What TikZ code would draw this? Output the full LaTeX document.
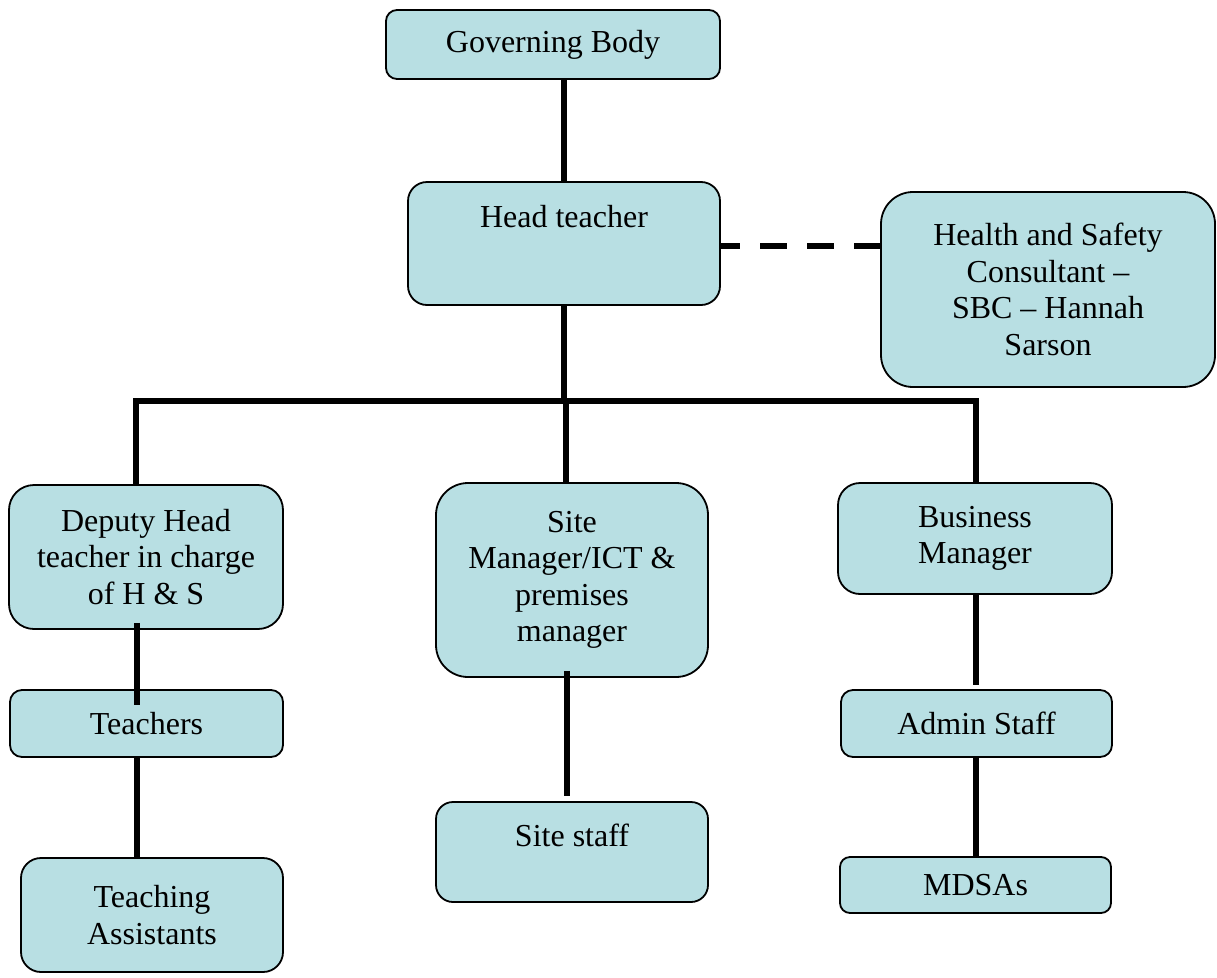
\documentclass[tikz,border=0pt]{standalone}
\usepackage{fontspec}
\setmainfont{Liberation Serif}
\usetikzlibrary{calc}
\definecolor{boxfill}{HTML}{B8DFE3}
\tikzset{
  box/.style={draw=black, line width=1.8pt, fill=boxfill, align=center, inner sep=0pt,
    font=\fontsize{32}{36.5}\selectfont},
  lbl/.style={align=center, inner sep=0pt, font=\fontsize{32}{36.5}\selectfont},
  conn/.style={line width=6pt, line cap=butt},
  dashconn/.style={line width=6.5pt, dash pattern=on 26.5pt off 20.5pt, dash phase=7.5pt}
}
\begin{document}
\begin{tikzpicture}[x=1pt,y=-1pt]
\useasboundingbox (0,0) rectangle (1217,977);
% boxes
\node[box, minimum width=334pt, minimum height=69pt, rounded corners=11pt] (gov) at (553,44.5) {Governing Body};
\node[box, minimum width=312pt, minimum height=123pt, rounded corners=19pt,
      label={[lbl, yshift=26.5pt]center:Head teacher}] (head) at (564,243.5) {};
\node[box, minimum width=334pt, minimum height=195pt, rounded corners=32pt] (hs) at (1048,289.5)
  {Health and Safety\\Consultant --\\SBC -- Hannah\\Sarson};
\node[box, minimum width=274pt, minimum height=144pt, rounded corners=25pt] (dep) at (146,557)
  {Deputy Head\\teacher in charge\\of H \& S};
\node[box, minimum width=272pt, minimum height=194pt, rounded corners=32pt] (site) at (572,580)
  {Site\\Manager/ICT \&\\premises\\manager};
\node[box, minimum width=274pt, minimum height=111pt, rounded corners=22pt] (bus) at (975,538.5)
  {Business\\Manager};
\node[box, minimum width=273pt, minimum height=67pt, rounded corners=12pt] (teach) at (146.5,723.5) {Teachers};
\node[box, minimum width=262pt, minimum height=114pt, rounded corners=20pt] (ta) at (152,915)
  {Teaching\\Assistants};
\node[box, minimum width=272pt, minimum height=100pt, rounded corners=17pt,
      label={[lbl, yshift=17pt]center:Site staff}] (sstaff) at (572,852) {};
\node[box, minimum width=271pt, minimum height=67pt, rounded corners=12pt] (admin) at (976.5,723.5) {Admin Staff};
\node[box, minimum width=271pt, minimum height=56pt, rounded corners=10pt] (mdsa) at (975.5,885) {MDSAs};
% bus coordinates
\coordinate (busL) at (135.5,401);
\coordinate (busR) at (976,401);
\coordinate (busM) at (566,401);
% connectors
\draw[conn] (head.north |- gov.south) -- (head.north);
\draw[conn] (head.south) -- (head.south |- busL);
\draw[conn, line cap=rect] (busL) -- (busR);
\draw[conn] (busL) -- (busL |- dep.north);
\draw[conn] (busM) -- (busM |- site.north);
\draw[conn] (busR) -- (busR |- bus.north);
\draw[dashconn] (head.east |- 0,246) -- (hs.west |- 0,246);
\draw[conn] ($(dep.south -| 137,0)+(0,-7)$) -- ($(teach.north -| 137,0)+(0,16)$);
\draw[conn] (teach.south -| 137,0) -- (ta.north -| 137,0);
\draw[conn] ($(site.south -| 567,0)+(0,-7)$) -- ($(sstaff.north -| 567,0)+(0,-5)$);
\draw[conn] (bus.south -| 976,0) -- ($(admin.north -| 976,0)+(0,-4)$);
\draw[conn] (admin.south -| 976,0) -- (mdsa.north -| 976,0);
\end{tikzpicture}
\end{document}
